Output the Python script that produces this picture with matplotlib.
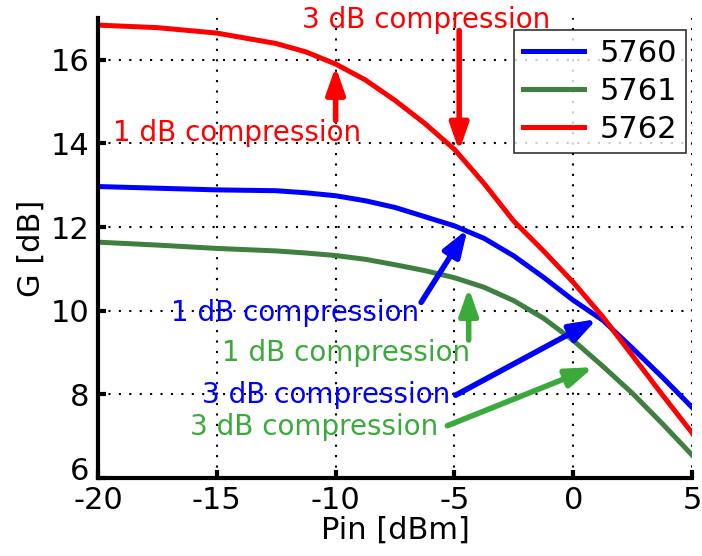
import numpy as np
import matplotlib
matplotlib.use("Agg")
import matplotlib.pyplot as plt
import matplotlib.transforms as mtransforms

plt.rcParams["axes.unicode_minus"] = False


# -----------------------------
# Gain vs input power
# -----------------------------
pin = [-20, -17.5, -15, -12.5, -11.25, -10, -8.75, -7.5, -6.25, -5,
       -3.75, -2.5, -1.25, 0, 1.25, 2.5, 3.75, 5]

g_5760 = [12.97, 12.93, 12.89, 12.87, 12.82, 12.75, 12.63, 12.47, 12.25, 12.03,
          11.73, 11.31, 10.8, 10.25, 9.77, 9.1, 8.41, 7.69]
g_5761 = [11.64, 11.57, 11.49, 11.43, 11.38, 11.32, 11.23, 11.1, 10.96, 10.79,
          10.56, 10.24, 9.82, 9.29, 8.67, 8.02, 7.3, 6.55]
g_5762 = [16.83, 16.77, 16.64, 16.39, 16.19, 15.9, 15.52, 15.03, 14.48, 13.86,
          13.04, 12.14, 11.43, 10.68, 9.85, 8.92, 7.99, 7.08]

labels = ["5760", "5761", "5762"]
colors = ["#0000ff", "#3f7f3f", "#ff0000"]

# compression markers: (text, text pos, arrow tail, arrow tip, color)
notes = [
    ("3 dB compression", (-6.2, 16.95), (-4.8, 16.7), (-4.8, 13.82), "#ff0000"),
    ("1 dB compression", (-14.15, 14.25), (-10.0, 14.55), (-10.0, 15.84), "#ff0000"),
    ("1 dB compression", (-11.7, 9.95), (-6.4, 10.2), (-4.45, 11.95), "#0000ff"),
    ("1 dB compression", (-9.55, 9.0), (-4.4, 9.3), (-4.4, 10.55), "#3aaa3a"),
    ("3 dB compression", (-10.4, 7.98), (-4.95, 7.98), (1.0, 9.8), "#0000ff"),
    ("3 dB compression", (-10.9, 7.22), (-5.3, 7.25), (0.85, 8.65), "#3aaa3a"),
]


fig = plt.figure(figsize=(7.02, 5.56), dpi=100)
ax = fig.add_axes([0.1396, 0.1403, 0.8462, 0.8273])

for g, lab, c in zip([g_5760, g_5761, g_5762], labels, colors):
    ax.plot(pin, g, color=c, lw=3.6, label=lab, solid_joinstyle="round")

for txt, tpos, tail, tip, c in notes:
    ax.text(tpos[0], tpos[1], txt, color=c, fontsize=20,
            ha="center", va="center")
    ax.annotate("", xy=tip, xytext=tail,
                arrowprops=dict(arrowstyle="-|>,head_length=0.8,head_width=0.28",
                                color=c, lw=4, mutation_scale=20,
                                shrinkA=0, shrinkB=0))

ax.set_xlim(-20, 5)
ax.set_ylim(6, 17)
ax.set_xticks([-20, -15, -10, -5, 0, 5])
ax.set_yticks([6, 8, 10, 12, 14, 16])

ax.grid(True, color="black", lw=1.5, linestyle=(0, (1, 4)))

for side in ["top", "right"]:
    ax.spines[side].set_visible(False)
for side in ["left", "bottom"]:
    ax.spines[side].set_linewidth(3)

ax.tick_params(direction="in", length=6, width=3, labelsize=22, pad=6)

# lift the bottom y label a bit so it clears the x labels
lift = mtransforms.ScaledTranslation(0, 7 / 72, fig.dpi_scale_trans)
lbl = ax.get_yticklabels()[0]
lbl.set_transform(lbl.get_transform() + lift)

ax.set_xlabel("Pin [dBm]", fontsize=22, labelpad=0)
ax.set_ylabel("G [dB]", fontsize=22, labelpad=4)

leg = ax.legend(loc="upper right", bbox_to_anchor=(0.99, 0.975),
                fontsize=22, frameon=True, fancybox=False,
                edgecolor="black", handlelength=2.0, handletextpad=0.5,
                borderpad=0.3, labelspacing=0.3, borderaxespad=0)
leg.get_frame().set_linewidth(1.2)

plt.savefig("out.png", dpi=100)
plt.close()
